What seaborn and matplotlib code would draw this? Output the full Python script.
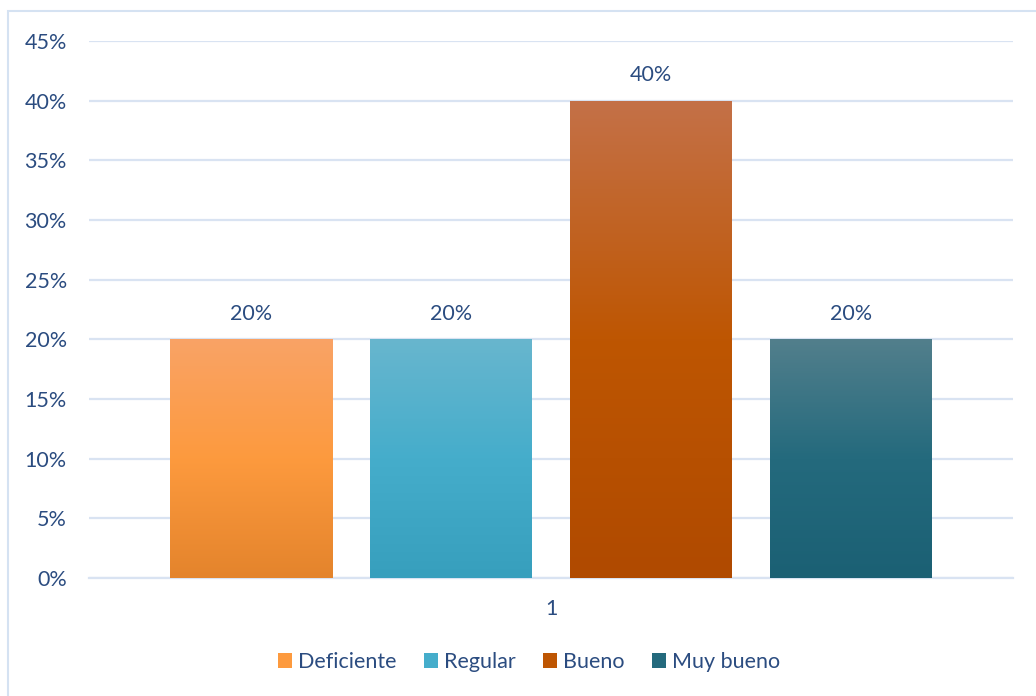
import numpy as np
import pandas as pd
import matplotlib
matplotlib.use("Agg")
import matplotlib.pyplot as plt
import seaborn as sns
from matplotlib.colors import LinearSegmentedColormap
from matplotlib.patches import Rectangle, Patch
from matplotlib.ticker import FuncFormatter, MultipleLocator

# Data
group_labels = ["1"]
categories = ["Deficiente", "Regular", "Bueno", "Muy bueno"]
shares = [0.20, 0.20, 0.40, 0.20]

# Vertical gradient stops per category (top, middle, bottom)
gradients = {
    "Deficiente": ["#F9A366", "#FD9A3E", "#E4842C"],
    "Regular":    ["#68B6CE", "#45ADCB", "#379FBD"],
    "Bueno":      ["#C47148", "#BE5602", "#B04A00"],
    "Muy bueno":  ["#527F8C", "#246A7D", "#1B6074"],
}

text_color = "#2B4C80"
grid_color = "#D9E3F2"
font_size = 15.5

sns.set_theme(style="white")
plt.rcParams["font.family"] = ["Lato", "DejaVu Sans"]

df = pd.DataFrame({"grupo": group_labels * len(categories),
                   "categoria": categories,
                   "valor": shares})

fig = plt.figure(figsize=(10.36, 6.96), dpi=100)
ax = fig.add_axes([89 / 1036, (696 - 578) / 696, (1013 - 89) / 1036, (578 - 41) / 696])

palette = {c: g[1] for c, g in gradients.items()}
sns.barplot(data=df, x="grupo", y="valor", hue="categoria", hue_order=categories,
            palette=palette, width=0.8, gap=0.19, legend=False, ax=ax, zorder=3)

ax.yaxis.set_major_locator(MultipleLocator(0.05))
ax.yaxis.set_major_formatter(FuncFormatter(lambda v, _: f"{v * 100:.0f}%"))
ax.grid(axis="y", color=grid_color, linewidth=1.6, zorder=0)
ax.grid(axis="x", visible=False)
for side in ["top", "right", "left"]:
    ax.spines[side].set_visible(False)
ax.spines["bottom"].set_color(grid_color)
ax.spines["bottom"].set_linewidth(1.6)
ax.set_xlabel("")
ax.set_ylabel("")
ax.tick_params(axis="y", length=0, pad=16, labelsize=font_size, labelcolor=text_color)
ax.tick_params(axis="x", length=0, pad=15, labelsize=font_size, labelcolor=text_color)

# Replace the flat fills with vertical gradients clipped to each bar
for cat, container in zip(categories, ax.containers):
    cmap = LinearSegmentedColormap.from_list(cat, gradients[cat][::-1])
    for bar in container:
        x0, y0 = bar.get_x(), bar.get_y()
        w, h = bar.get_width(), bar.get_height()
        grad = np.linspace(0, 1, 256).reshape(-1, 1)
        im = ax.imshow(grad, cmap=cmap, aspect="auto", origin="lower",
                       extent=[x0, x0 + w, y0, y0 + h], zorder=3.5,
                       interpolation="bicubic")
        im.set_clip_path(bar)
        bar.set_facecolor("none")
        bar.set_edgecolor("none")
        ax.annotate(f"{bar.get_height() * 100:.0f}%",
                    (x0 + w / 2, y0 + h), xytext=(0, 18.5),
                    textcoords="offset points", ha="center", va="center",
                    fontsize=font_size, color=text_color)

ax.set_xlim(-0.462, 0.462)
ax.set_ylim(0, 0.45)

# Legend
handles = [Patch(facecolor=gradients[c][1], edgecolor="none", label=c) for c in categories]
fig.legend(handles=handles, loc="center", bbox_to_anchor=(529 / 1036, (696 - 662) / 696),
           ncol=4, frameon=False, fontsize=font_size, labelcolor=text_color,
           handlelength=0.65, handleheight=0.65, handletextpad=0.25, columnspacing=1.3)

# Chart area border
fig.add_artist(Rectangle((8 / 1036, -0.05), 1.2, (696 - 11) / 696 + 0.05,
                         transform=fig.transFigure, fill=False,
                         edgecolor="#D5E2F2", linewidth=1.5))

fig.savefig("out.png", dpi=100)
